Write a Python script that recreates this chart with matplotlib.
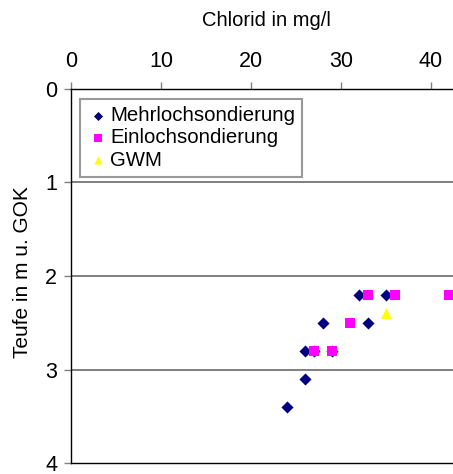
import matplotlib
matplotlib.use("Agg")
import matplotlib.pyplot as plt

plt.rcParams['font.family'] = ['Liberation Sans', 'DejaVu Sans']

# === Data ===
mehr_x = [32, 35, 28, 33, 26, 27, 29, 26, 24]
mehr_y = [2.2, 2.2, 2.5, 2.5, 2.8, 2.8, 2.8, 3.1, 3.4]
ein_x = [33, 36, 42, 31, 27, 29]
ein_y = [2.2, 2.2, 2.2, 2.5, 2.8, 2.8]
gwm_x = [35]
gwm_y = [2.4]

x_ticks = [0, 10, 20, 30, 40]
y_ticks = [0, 1, 2, 3, 4]

# === Figure ===
W, H = 453, 474
fig = plt.figure(figsize=(W / 100, H / 100), dpi=100)
left, top, bottom = 71, 89, 463
xmax = 45
px_per_unit = 9.0
ax_w = xmax * px_per_unit
ax_h = bottom - top
ax = fig.add_axes([left / W, (H - bottom) / H, ax_w / W, ax_h / H])

ax.scatter(mehr_x, mehr_y, marker='D', s=38, color='#000080',
           linewidths=0, label='Mehrlochsondierung', zorder=3)
ax.scatter(ein_x, ein_y, marker='s', s=52, color='#FF00FF',
           linewidths=0, label='Einlochsondierung', zorder=4)
ax.scatter(gwm_x, gwm_y, marker='^', s=60, color='#FFFF00',
           linewidths=0, label='GWM', zorder=5)

ax.set_xlim(0, xmax)
ax.set_ylim(4, 0)
ax.set_xticks(x_ticks)
ax.set_yticks(y_ticks)
ax.xaxis.tick_top()
ax.tick_params(axis='x', direction='out', length=5, width=1,
               color='#808080', pad=7, labelsize=15.5)
ax.tick_params(axis='y', direction='out', length=5, width=1,
               color='#808080', pad=5, labelsize=15.5)

for y in [1, 2, 3]:
    ax.axhline(y, color='#6a6a6a', lw=1.2, zorder=1)

for s in ['top', 'bottom', 'left']:
    ax.spines[s].set_color('black')
    ax.spines[s].set_linewidth(1)
ax.spines['right'].set_visible(False)

ax.xaxis.set_label_position('top')
ax.set_xlabel('Chlorid in mg/l', fontsize=14.5)
ax.xaxis.set_label_coords((266 - left) / ax_w, 1 + (top - 21) / ax_h)
ax.xaxis.label.set_verticalalignment('center')
ax.set_ylabel('Teufe in m u. GOK', fontsize=15)
ax.yaxis.set_label_coords(-(left - 23) / ax_w, (bottom - 272) / ax_h)
ax.yaxis.label.set_verticalalignment('center')

leg = ax.legend(loc='upper left',
                bbox_to_anchor=((80 - left) / ax_w, 1 - (99 - top) / ax_h),
                frameon=True, fancybox=False, fontsize=14.7, borderaxespad=0,
                handletextpad=0.05, labelspacing=0.16, borderpad=0.35,
                markerscale=0.75, handlelength=1.08)
leg.get_frame().set_edgecolor('#808080')
leg.get_frame().set_linewidth(1.5)

fig.savefig('out.png', dpi=100)
